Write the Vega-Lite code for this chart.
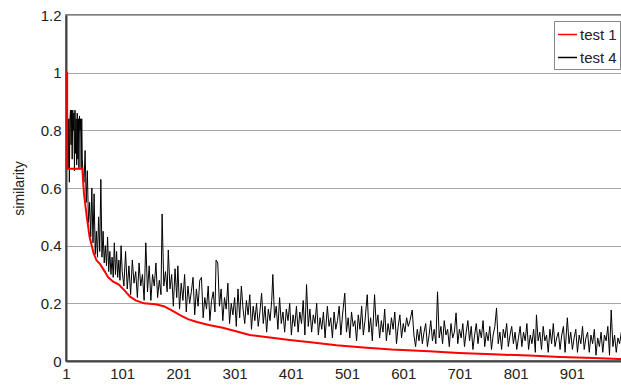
{
  "$schema": "https://vega.github.io/schema/vega-lite/v6.json",
  "autosize": {"type": "none"},
  "padding": {"left": 66, "top": 15, "right": 0, "bottom": 24},
  "width": 557,
  "height": 346,
  "background": "white",
  "datasets": {
    "t1": [
      {"rank":1,"sim":1},{"rank":3,"sim":1},{"rank":3,"sim":0.667},{"rank":30,"sim":0.667},{"rank":33,"sim":0.58},{"rank":38,"sim":0.5},{"rank":43,"sim":0.43},{"rank":50,"sim":0.375},{"rank":55,"sim":0.35},{"rank":62,"sim":0.335},{"rank":70,"sim":0.31},{"rank":76,"sim":0.29},{"rank":85,"sim":0.275},{"rank":95,"sim":0.265},{"rank":105,"sim":0.245},{"rank":115,"sim":0.223},{"rank":125,"sim":0.21},{"rank":140,"sim":0.2},{"rank":160,"sim":0.197},{"rank":175,"sim":0.19},{"rank":190,"sim":0.175},{"rank":203,"sim":0.16},{"rank":218,"sim":0.145},{"rank":234,"sim":0.135},{"rank":255,"sim":0.125},{"rank":280,"sim":0.115},{"rank":300,"sim":0.105},{"rank":328,"sim":0.09},{"rank":360,"sim":0.082},{"rank":399,"sim":0.073},{"rank":440,"sim":0.064},{"rank":482,"sim":0.055},{"rank":530,"sim":0.047},{"rank":580,"sim":0.04},{"rank":647,"sim":0.034},{"rank":700,"sim":0.028},{"rank":760,"sim":0.023},{"rank":825,"sim":0.019},{"rank":880,"sim":0.014},{"rank":940,"sim":0.01},{"rank":985,"sim":0.007},{"rank":995,"sim":0.006}
    ],
    "t4": [
      {"rank":1,"sim":1},{"rank":2,"sim":1},{"rank":3,"sim":0.667},{"rank":4,"sim":0.667},{"rank":5,"sim":0.667},{"rank":6,"sim":0.84},{"rank":7,"sim":0.62},{"rank":8,"sim":0.84},{"rank":9,"sim":0.87},{"rank":10,"sim":0.75},{"rank":11,"sim":0.87},{"rank":12,"sim":0.7},{"rank":13,"sim":0.87},{"rank":14,"sim":0.8},{"rank":15,"sim":0.86},{"rank":16,"sim":0.66},{"rank":17,"sim":0.87},{"rank":18,"sim":0.72},{"rank":19,"sim":0.84},{"rank":20,"sim":0.68},{"rank":21,"sim":0.86},{"rank":22,"sim":0.7},{"rank":23,"sim":0.84},{"rank":24,"sim":0.67},{"rank":25,"sim":0.85},{"rank":26,"sim":0.8},{"rank":27,"sim":0.84},{"rank":28,"sim":0.67},{"rank":29,"sim":0.84},{"rank":30,"sim":0.7},
      {"rank":31,"sim":0.66},{"rank":33,"sim":0.62},{"rank":35,"sim":0.73},{"rank":37,"sim":0.55},{"rank":39,"sim":0.66},{"rank":41,"sim":0.48},{"rank":43,"sim":0.55},{"rank":45,"sim":0.43},{"rank":47,"sim":0.6},{"rank":49,"sim":0.41},{"rank":51,"sim":0.58},{"rank":53,"sim":0.37},{"rank":55,"sim":0.45},{"rank":57,"sim":0.36},{"rank":59,"sim":0.5},{"rank":61,"sim":0.38},{"rank":63,"sim":0.63},{"rank":65,"sim":0.36},{"rank":67,"sim":0.45},{"rank":69,"sim":0.34},{"rank":71,"sim":0.4},{"rank":73,"sim":0.33},{"rank":75,"sim":0.43},{"rank":77,"sim":0.31},{"rank":79,"sim":0.38},{"rank":81,"sim":0.3},{"rank":83,"sim":0.36},{"rank":85,"sim":0.29},{"rank":87,"sim":0.41},{"rank":89,"sim":0.3},{"rank":91,"sim":0.38},{"rank":93,"sim":0.29},{"rank":95,"sim":0.35},{"rank":97,"sim":0.28},{"rank":99,"sim":0.4},
      {"rank":101,"sim":0.31},{"rank":104,"sim":0.26},{"rank":107,"sim":0.38},{"rank":110,"sim":0.25},{"rank":113,"sim":0.33},{"rank":116,"sim":0.23},{"rank":119,"sim":0.35},{"rank":122,"sim":0.27},{"rank":125,"sim":0.31},{"rank":128,"sim":0.22},{"rank":131,"sim":0.34},{"rank":134,"sim":0.26},{"rank":137,"sim":0.3},{"rank":140,"sim":0.21},{"rank":143,"sim":0.41},{"rank":146,"sim":0.24},{"rank":149,"sim":0.33},{"rank":152,"sim":0.21},{"rank":155,"sim":0.3},{"rank":158,"sim":0.26},{"rank":161,"sim":0.34},{"rank":164,"sim":0.22},{"rank":167,"sim":0.28},{"rank":170,"sim":0.23},{"rank":172,"sim":0.51},{"rank":175,"sim":0.26},{"rank":178,"sim":0.31},{"rank":181,"sim":0.24},{"rank":183,"sim":0.385},{"rank":186,"sim":0.25},{"rank":189,"sim":0.3},{"rank":192,"sim":0.19},{"rank":195,"sim":0.32},{"rank":198,"sim":0.22},{"rank":200,"sim":0.33},{"rank":203,"sim":0.18},{"rank":206,"sim":0.27},{"rank":209,"sim":0.21},{"rank":212,"sim":0.3},{"rank":215,"sim":0.17},{"rank":218,"sim":0.26},{"rank":221,"sim":0.2},{"rank":224,"sim":0.24},{"rank":227,"sim":0.29},{"rank":230,"sim":0.16},{"rank":233,"sim":0.25},{"rank":236,"sim":0.19},{"rank":239,"sim":0.28},{"rank":242,"sim":0.29},{"rank":245,"sim":0.15},{"rank":248,"sim":0.22},{"rank":251,"sim":0.18},{"rank":254,"sim":0.26},{"rank":257,"sim":0.14},{"rank":260,"sim":0.21},{"rank":263,"sim":0.24},{"rank":266,"sim":0.17},{"rank":268,"sim":0.35},{"rank":271,"sim":0.34},{"rank":274,"sim":0.19},{"rank":277,"sim":0.25},{"rank":280,"sim":0.14},{"rank":283,"sim":0.22},{"rank":286,"sim":0.18},{"rank":289,"sim":0.27},{"rank":292,"sim":0.13},{"rank":295,"sim":0.2},{"rank":298,"sim":0.16},
      {"rank":301,"sim":0.22},{"rank":304,"sim":0.12},{"rank":307,"sim":0.25},{"rank":310,"sim":0.15},{"rank":313,"sim":0.26},{"rank":316,"sim":0.18},{"rank":319,"sim":0.13},{"rank":322,"sim":0.21},{"rank":325,"sim":0.16},{"rank":328,"sim":0.23},{"rank":331,"sim":0.11},{"rank":334,"sim":0.19},{"rank":337,"sim":0.14},{"rank":340,"sim":0.2},{"rank":343,"sim":0.12},{"rank":346,"sim":0.17},{"rank":349,"sim":0.235},{"rank":352,"sim":0.13},{"rank":355,"sim":0.19},{"rank":358,"sim":0.1},{"rank":361,"sim":0.18},{"rank":364,"sim":0.14},{"rank":367,"sim":0.21},{"rank":369,"sim":0.3},{"rank":372,"sim":0.15},{"rank":375,"sim":0.19},{"rank":378,"sim":0.11},{"rank":381,"sim":0.22},{"rank":384,"sim":0.13},{"rank":387,"sim":0.17},{"rank":390,"sim":0.1},{"rank":393,"sim":0.18},{"rank":396,"sim":0.14},{"rank":399,"sim":0.2},{"rank":402,"sim":0.09},{"rank":405,"sim":0.16},{"rank":408,"sim":0.12},{"rank":411,"sim":0.19},{"rank":414,"sim":0.1},{"rank":417,"sim":0.17},{"rank":420,"sim":0.13},{"rank":423,"sim":0.21},{"rank":426,"sim":0.09},{"rank":429,"sim":0.265},{"rank":432,"sim":0.12},{"rank":435,"sim":0.18},{"rank":438,"sim":0.1},{"rank":441,"sim":0.16},{"rank":444,"sim":0.13},{"rank":447,"sim":0.2},{"rank":450,"sim":0.09},{"rank":453,"sim":0.15},{"rank":456,"sim":0.11},{"rank":459,"sim":0.17},{"rank":462,"sim":0.08},{"rank":466,"sim":0.19},{"rank":469,"sim":0.12},{"rank":472,"sim":0.15},{"rank":475,"sim":0.08},{"rank":478,"sim":0.17},{"rank":481,"sim":0.11},{"rank":484,"sim":0.14},{"rank":487,"sim":0.19},{"rank":490,"sim":0.09},{"rank":493,"sim":0.16},{"rank":497,"sim":0.235},{"rank":500,"sim":0.1},
      {"rank":503,"sim":0.15},{"rank":506,"sim":0.08},{"rank":509,"sim":0.17},{"rank":512,"sim":0.12},{"rank":515,"sim":0.14},{"rank":518,"sim":0.07},{"rank":521,"sim":0.16},{"rank":524,"sim":0.11},{"rank":527,"sim":0.19},{"rank":530,"sim":0.09},{"rank":533,"sim":0.14},{"rank":537,"sim":0.23},{"rank":540,"sim":0.1},{"rank":543,"sim":0.15},{"rank":546,"sim":0.07},{"rank":550,"sim":0.23},{"rank":553,"sim":0.12},{"rank":556,"sim":0.16},{"rank":559,"sim":0.08},{"rank":562,"sim":0.14},{"rank":565,"sim":0.1},{"rank":568,"sim":0.18},{"rank":571,"sim":0.07},{"rank":574,"sim":0.13},{"rank":577,"sim":0.09},{"rank":580,"sim":0.15},{"rank":583,"sim":0.11},{"rank":586,"sim":0.17},{"rank":589,"sim":0.06},{"rank":592,"sim":0.12},{"rank":595,"sim":0.16},{"rank":598,"sim":0.08},{"rank":601,"sim":0.13},{"rank":604,"sim":0.1},{"rank":607,"sim":0.15},{"rank":610,"sim":0.12},{"rank":613,"sim":0.14},{"rank":617,"sim":0.177},{"rank":620,"sim":0.09},{"rank":623,"sim":0.05},{"rank":626,"sim":0.11},{"rank":629,"sim":0.07},{"rank":632,"sim":0.12},{"rank":635,"sim":0.06},{"rank":638,"sim":0.1},{"rank":641,"sim":0.13},{"rank":644,"sim":0.05},{"rank":647,"sim":0.09},{"rank":650,"sim":0.14},{"rank":653,"sim":0.07},{"rank":656,"sim":0.11},{"rank":659,"sim":0.06},{"rank":662,"sim":0.24},{"rank":665,"sim":0.08},{"rank":668,"sim":0.12},{"rank":671,"sim":0.06},{"rank":674,"sim":0.14},{"rank":677,"sim":0.09},{"rank":680,"sim":0.11},{"rank":683,"sim":0.05},{"rank":686,"sim":0.13},{"rank":689,"sim":0.08},{"rank":692,"sim":0.1},{"rank":695,"sim":0.167},{"rank":698,"sim":0.06},
      {"rank":701,"sim":0.11},{"rank":704,"sim":0.08},{"rank":707,"sim":0.13},{"rank":710,"sim":0.05},{"rank":713,"sim":0.1},{"rank":716,"sim":0.14},{"rank":719,"sim":0.07},{"rank":722,"sim":0.12},{"rank":725,"sim":0.04},{"rank":728,"sim":0.09},{"rank":731,"sim":0.13},{"rank":734,"sim":0.06},{"rank":737,"sim":0.11},{"rank":740,"sim":0.08},{"rank":743,"sim":0.14},{"rank":746,"sim":0.05},{"rank":749,"sim":0.1},{"rank":752,"sim":0.07},{"rank":755,"sim":0.12},{"rank":758,"sim":0.04},{"rank":761,"sim":0.09},{"rank":764,"sim":0.12},{"rank":767,"sim":0.184},{"rank":770,"sim":0.06},{"rank":773,"sim":0.1},{"rank":776,"sim":0.04},{"rank":779,"sim":0.11},{"rank":782,"sim":0.08},{"rank":785,"sim":0.13},{"rank":788,"sim":0.05},{"rank":791,"sim":0.09},{"rank":794,"sim":0.12},{"rank":797,"sim":0.06},{"rank":800,"sim":0.1},{"rank":803,"sim":0.04},{"rank":806,"sim":0.08},{"rank":809,"sim":0.12},{"rank":812,"sim":0.05},{"rank":815,"sim":0.1},{"rank":818,"sim":0.07},{"rank":821,"sim":0.13},{"rank":824,"sim":0.04},{"rank":827,"sim":0.09},{"rank":830,"sim":0.06},{"rank":833,"sim":0.11},{"rank":836,"sim":0.03},{"rank":838,"sim":0.16},{"rank":841,"sim":0.07},{"rank":844,"sim":0.1},{"rank":847,"sim":0.04},{"rank":850,"sim":0.12},{"rank":853,"sim":0.07},{"rank":856,"sim":0.09},{"rank":859,"sim":0.03},{"rank":862,"sim":0.11},{"rank":865,"sim":0.06},{"rank":868,"sim":0.13},{"rank":871,"sim":0.05},{"rank":874,"sim":0.08},{"rank":877,"sim":0.1},{"rank":880,"sim":0.04},{"rank":883,"sim":0.09},{"rank":886,"sim":0.12},{"rank":889,"sim":0.03},{"rank":893,"sim":0.15},{"rank":896,"sim":0.06},{"rank":899,"sim":0.1},
      {"rank":902,"sim":0.04},{"rank":905,"sim":0.08},{"rank":908,"sim":0.11},{"rank":911,"sim":0.03},{"rank":914,"sim":0.09},{"rank":917,"sim":0.06},{"rank":920,"sim":0.12},{"rank":923,"sim":0.04},{"rank":926,"sim":0.08},{"rank":929,"sim":0.1},{"rank":932,"sim":0.03},{"rank":935,"sim":0.09},{"rank":938,"sim":0.06},{"rank":941,"sim":0.11},{"rank":944,"sim":0.02},{"rank":947,"sim":0.08},{"rank":950,"sim":0.05},{"rank":953,"sim":0.1},{"rank":956,"sim":0.03},{"rank":959,"sim":0.09},{"rank":962,"sim":0.07},{"rank":965,"sim":0.12},{"rank":968,"sim":0.02},{"rank":971,"sim":0.177},{"rank":974,"sim":0.05},{"rank":977,"sim":0.09},{"rank":980,"sim":0.03},{"rank":983,"sim":0.08},{"rank":986,"sim":0.06},{"rank":989,"sim":0.1},{"rank":992,"sim":0.04}
    ]
  },
  "encoding": {
    "x": {
      "field": "rank", "type": "quantitative",
      "scale": {"domain": [1, 992], "nice": false, "zero": false},
      "axis": {"values": [1, 101, 201, 301, 401, 501, 601, 701, 801, 901], "title": null, "grid": false, "ticks": false, "labelFontSize": 15, "labelPadding": 5, "labelFlush": false, "domain": true}
    },
    "y": {
      "field": "sim", "type": "quantitative",
      "scale": {"domain": [0, 1.2], "nice": false},
      "axis": {"values": [0, 0.2, 0.4, 0.6, 0.8, 1, 1.2], "format": "~g", "title": "similarity", "grid": true, "ticks": false, "labelFontSize": 15, "labelPadding": 5, "titleFontSize": 14, "titleFontWeight": "normal", "titlePadding": 14}
    },
    "color": {
      "type": "nominal",
      "scale": {"domain": ["test 1", "test 4"], "range": ["#ff0000", "#000000"]},
      "legend": {"orient": "none", "legendX": 488, "legendY": 6, "title": null}
    }
  },
  "layer": [
    {
      "data": {"name": "t4"},
      "mark": {"type": "line", "strokeWidth": 1, "interpolate": "linear"},
      "encoding": {"color": {"datum": "test 4", "type": "nominal"}}
    },
    {
      "data": {"name": "t1"},
      "mark": {"type": "line", "strokeWidth": 2, "interpolate": "linear"},
      "encoding": {"color": {"datum": "test 1", "type": "nominal"}}
    }
  ],
  "config": {
    "font": "Liberation Sans",
    "view": {"stroke": "#555555", "strokeWidth": 1.5},
    "axis": {"labelColor": "#222222", "titleColor": "#222222", "domainColor": "#444444", "domainWidth": 2, "gridColor": "#a8a8a8", "gridWidth": 1},
    "legend": {
      "symbolType": "stroke", "symbolSize": 361, "symbolStrokeWidth": 1.5,
      "labelFontSize": 15, "labelColor": "#222222", "labelOffset": 2,
      "padding": 3, "rowPadding": 4,
      "strokeColor": "#888888", "fillColor": "#ffffff"
    }
  }
}
